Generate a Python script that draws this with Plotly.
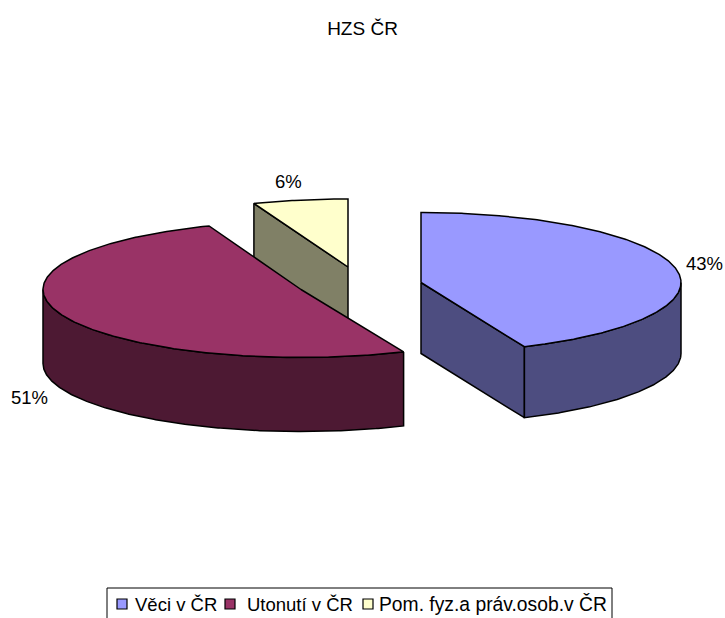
import numpy as np
import plotly.graph_objects as go

# Data
categories = ["Věci v ČR", "Utonutí v ČR", "Pom. fyz.a práv.osob.v ČR"]
values = [43.49, 50.71, 5.8]
title_text = "HZS ČR"

# Style and pseudo-3D pie geometry (pixels)
top_colors = ["#9999FF", "#993366", "#FFFFCC"]
side_colors = ["#4D4D80", "#4D1933", "#808066"]
centers_x = [421, 301, 348]
centers_y = [282.5, 289.5, 267]
radii_x = [260, 258, 264]
radii_y = [70, 68, 68]
depths = [71, 74, 72]
label_x = [704, 29, 288]
label_y = [263, 397, 181]
draw_order = [2, 1, 0]
legend_marker_x = [122, 230, 368]
legend_text_x = [133, 245, 377]
legend_font_sizes = [18.5, 18.5, 19.3]
legend_y = 604

W, H = 725, 618
FONT = "Liberation Sans, Arial, sans-serif"

total = sum(values)
stops = np.cumsum([0] + values) / total * 360


def rim(i, a, b):
    t = np.radians(np.linspace(a, b, max(2, int(abs(b - a) * 2) + 1)))
    return centers_x[i] + radii_x[i] * np.sin(t), centers_y[i] - radii_y[i] * np.cos(t)


def add_poly(fig, xs, ys, color):
    xs, ys = list(xs), list(ys)
    fig.add_trace(go.Scatter(
        x=xs + xs[:1], y=ys + ys[:1], mode="lines", fill="toself",
        fillcolor=color, line=dict(color="#000000", width=1.5),
        hoverinfo="skip", showlegend=False,
    ))


def add_flat_wall(fig, i, angle):
    ex, ey = rim(i, angle, angle)
    cx, cy, d = centers_x[i], centers_y[i], depths[i]
    add_poly(fig, [cx, ex[0], ex[0], cx], [cy, ey[0], ey[0] + d, cy + d], side_colors[i])


fig = go.Figure()
for i in draw_order:
    a, b = stops[i], stops[i + 1]
    if 0 < b < 180:
        add_flat_wall(fig, i, b)
    if 180 < a < 360:
        add_flat_wall(fig, i, a)
    lo, hi = max(a, 90), min(b, 270)
    if lo < hi:
        rx, ry = rim(i, lo, hi)
        add_poly(fig, np.r_[rx, rx[::-1]], np.r_[ry, ry[::-1] + depths[i]], side_colors[i])
    tx, ty = rim(i, a, b)
    add_poly(fig, np.r_[centers_x[i], tx], np.r_[centers_y[i], ty], top_colors[i])

# Legend box, swatches and names
fig.add_shape(type="rect", x0=107, x1=612, y0=588, y1=625, xref="x", yref="y",
              line=dict(color="#000000", width=1), fillcolor="#FFFFFF", layer="below")
for name, color, mx, tx, fs in zip(categories, top_colors, legend_marker_x, legend_text_x, legend_font_sizes):
    fig.add_trace(go.Scatter(
        x=[mx], y=[legend_y], mode="markers", name=name, showlegend=False,
        marker=dict(symbol="square", size=10, color=color, line=dict(color="#000000", width=1.2)),
    ))
    fig.add_annotation(x=tx, y=legend_y, text=name, showarrow=False, xanchor="left",
                       font=dict(family=FONT, size=fs, color="#000000"))

for v, x, y in zip(values, label_x, label_y):
    fig.add_annotation(x=x, y=y, text=f"{round(v)}%", showarrow=False,
                       font=dict(family=FONT, size=18.5, color="#000000"))

fig.update_layout(
    width=W, height=H, autosize=False,
    margin=dict(l=0, r=0, t=0, b=0, autoexpand=False),
    showlegend=False,
    paper_bgcolor="#FFFFFF", plot_bgcolor="#FFFFFF",
    title=dict(text=title_text, x=0.5, xanchor="center", y=1 - 28 / H, yanchor="middle",
               font=dict(family=FONT, size=19, color="#000000")),
    xaxis=dict(range=[0, W], visible=False, fixedrange=True),
    yaxis=dict(range=[H, 0], visible=False, fixedrange=True),
)
fig.write_html("out.html", config={"displayModeBar": False},
               post_script="document.body.style.margin='0';document.documentElement.style.overflow='hidden';")
